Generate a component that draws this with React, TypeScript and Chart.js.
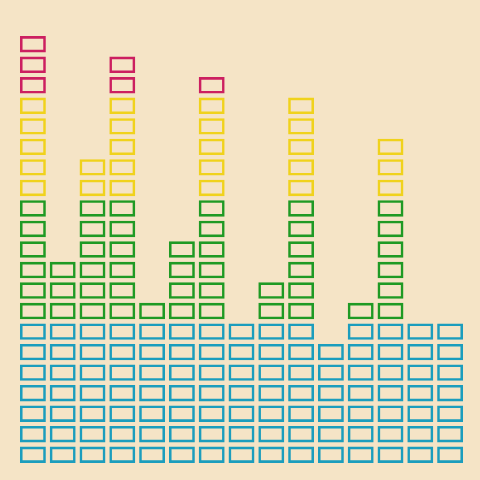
import React, { useRef, useEffect } from 'react';
import { Chart, registerables } from 'chart.js';

Chart.register(...registerables);

// one column per bar, height counted in blocks
const columns = ['1', '2', '3', '4', '5', '6', '7', '8', '9', '10', '11', '12', '13', '14', '15'];
const heights = [21, 10, 15, 20, 8, 11, 19, 7, 9, 18, 6, 8, 16, 7, 7];

// colour bands: blocks 1-7 blue, 8-13 green, 14-18 yellow, 19-21 pink
const bandTops = [7, 13, 18, 21];
const bandColors = ['#1b9dbd', '#1f9a24', '#f0d21c', '#cc1f60'];
const maxLevel = 21;

const colorFor = (level: number) => {
  const idx = bandTops.findIndex((top) => level <= top);
  return bandColors[idx];
};

const App: React.FC = () => {
  const chartRef = useRef<HTMLCanvasElement>(null);
  const chartInstance = useRef<Chart | null>(null);

  useEffect(() => {
    if (!chartRef.current) return;
    if (chartInstance.current) chartInstance.current.destroy();

    const ctx = chartRef.current.getContext('2d');
    if (!ctx) return;

    // one dataset per block row, floating bars leave a gap between blocks
    const datasets = [];
    for (let level = 1; level <= maxLevel; level++) {
      datasets.push({
        label: `row ${level}`,
        data: heights.map((h) => (h >= level ? [level - 1 + 0.1, level - 0.1] : null)),
        borderColor: colorFor(level),
        backgroundColor: 'rgba(0,0,0,0)',
        borderWidth: 2.6,
        borderSkipped: false,
        grouped: false,
        barPercentage: 0.87,
        categoryPercentage: 1,
      });
    }

    chartInstance.current = new Chart(ctx, {
      type: 'bar',
      data: { labels: columns, datasets: datasets as any },
      options: {
        responsive: true,
        maintainAspectRatio: false,
        animation: false,
        layout: { padding: { left: 18, right: 15, top: 34, bottom: 15 } },
        plugins: {
          legend: { display: false },
          tooltip: { enabled: false },
        },
        scales: {
          x: { display: false, grid: { display: false } },
          y: { display: false, min: 0, max: maxLevel, grid: { display: false } },
        },
      },
    });

    return () => {
      if (chartInstance.current) {
        chartInstance.current.destroy();
        chartInstance.current = null;
      }
    };
  }, []);

  return (
    <div
      style={{
        position: 'absolute',
        left: 0,
        top: 0,
        width: 480,
        height: 480,
        background: '#f5e4c6',
      }}
    >
      <canvas ref={chartRef} />
    </div>
  );
};

export default App;
